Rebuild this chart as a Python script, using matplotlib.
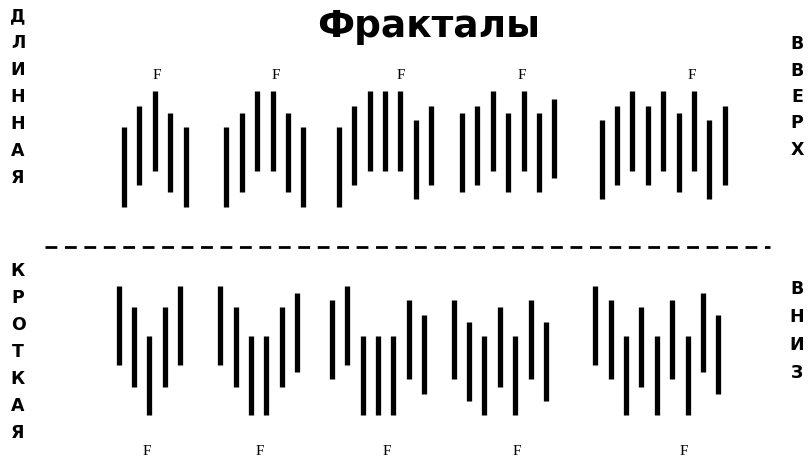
import matplotlib
matplotlib.use('Agg')
import matplotlib.pyplot as plt

plt.rcParams.update({
    'font.family': ['DejaVu Sans'],
    'lines.scale_dashes': False,
})

# Fractal groups: bar highs (price levels), each bar spans BAR_RANGE levels
top_highs = [
    [47, 50, 52, 49, 47],
    [47, 49, 52, 52, 49, 47],
    [47, 50, 52, 52, 52, 48, 50],
    [49, 50, 52, 49, 52, 49, 51],
    [48, 50, 52, 50, 52, 49, 52, 48, 50],
]
bottom_highs = [
    [25, 22, 18, 22, 25],
    [25, 22, 18, 18, 22, 24],
    [23, 25, 18, 18, 18, 23, 21],
    [23, 20, 18, 22, 18, 23, 20],
    [25, 23, 18, 22, 18, 23, 18, 24, 21],
]
bar_range = 11

# time index of first bar in each group
top_starts = [8.05, 14.7, 22.0, 30.0, 39.07]
bottom_starts = [7.7, 14.3, 21.55, 29.45, 38.65]

# where the "F" marks sit (bar index inside group)
top_f = [2.16, 3.23, 4.0, 3.9, 5.84]
bottom_f = [1.84, 2.6, 3.57, 4.1, 5.73]

title = 'Фракталы'
left_top = 'ДЛИННАЯ'
left_bottom = 'КРОТКАЯ'
right_top = 'ВВЕРХ'
right_bottom = 'ВНИЗ'

W, H = 810, 464
fig = plt.figure(figsize=(W / 100, H / 100), dpi=100)
ax = fig.add_axes([0, 0, 1, 1])
ax.set_xlim(0, W / 15.4)
ax.set_ylim(0.38, 64.82)
ax.axis('off')

for highs_list, starts, fpos, f_y in [(top_highs, top_starts, top_f, 54.4),
                                       (bottom_highs, bottom_starts, bottom_f, 2.05)]:
    for highs, t0, fi in zip(highs_list, starts, fpos):
        xs = [t0 + i for i in range(len(highs))]
        lows = [h - bar_range for h in highs]
        ax.vlines(xs, lows, highs, color='black', linewidth=3.8, capstyle='butt')
        ax.text(t0 + fi, f_y, 'F', family='Liberation Serif', fontsize=11,
                ha='center', va='center', color='black')

# separator
ax.axhline(30.4, xmin=45 / W, xmax=770 / W, color='black', linewidth=2.0,
           dashes=(8.5, 5.5))

fig.text(429 / W, 1 - 27 / H, title, fontsize=27, fontweight='bold',
         ha='center', va='center')


def column(text, x, y0, step):
    for i, ch in enumerate(text):
        fig.text(x / W, 1 - (y0 + i * step) / H, ch, fontsize=12.5,
                 fontweight='bold', ha='center', va='center')


column(left_top, 18, 16, 27)
column(left_bottom, 18, 271, 27)
column(right_top, 797, 44, 26.5)
column(right_bottom, 797, 289, 28)

fig.savefig('out.png', dpi=100)
